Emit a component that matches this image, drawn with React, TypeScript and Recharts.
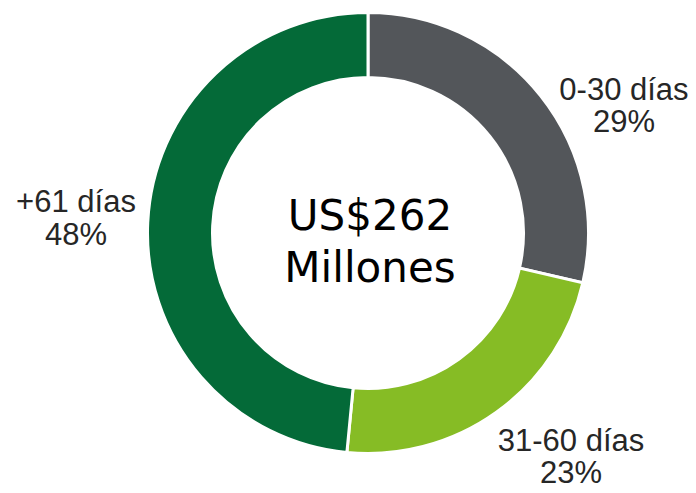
import { Cell, Pie, PieChart } from "recharts";

// amounts in US$ millions (total 262)
const categories = ["0-30 días", "31-60 días", "+61 días"];
const amounts = [75, 60, 127];
const sliceColors = ["#53565A", "#86BC25", "#046A38"];
const centerLines = ["US$262", "Millones"];

const data = categories.map((name, i) => ({ name, value: amounts[i] }));

// where each outside label sits, relative to the pie centre (first baseline)
const LABEL_OFFSETS: Record<string, { dx: number; dy: number; gap: number }> = {
  "0-30 días": { dx: 256, dy: -133, gap: 32 },
  "31-60 días": { dx: 203, dy: 218, gap: 32 },
  "+61 días": { dx: -292, dy: -21, gap: 33 },
};

const CX = 368;
const CY = 233;

function OutsideLabel(props: any) {
  const { cx, cy, name, percent } = props;
  const off = LABEL_OFFSETS[name];
  if (!off) return null;
  const x = cx + off.dx;
  const y = cy + off.dy;
  return (
    <text
      x={x}
      y={y}
      textAnchor="middle"
      fill="#262626"
      fontSize={31}
      fontFamily="'Liberation Sans', Arial, sans-serif"
    >
      <tspan x={x} y={y}>
        {name}
      </tspan>
      <tspan x={x} y={y + off.gap}>
        {`${Math.round(percent * 100)}%`}
      </tspan>
    </text>
  );
}

export default function App() {
  return (
    <div style={{ position: "absolute", left: 0, top: 0, width: 696, height: 493, background: "#fff" }}>
      <PieChart width={696} height={493} margin={{ top: 0, right: 0, bottom: 0, left: 0 }}>
        <Pie
          data={data}
          dataKey="value"
          nameKey="name"
          cx={CX}
          cy={CY}
          innerRadius={155.5}
          outerRadius={220.5}
          startAngle={90}
          endAngle={-270}
          stroke="#ffffff"
          strokeWidth={3}
          isAnimationActive={false}
          labelLine={false}
          label={OutsideLabel}
        >
          {data.map((d, i) => (
            <Cell key={d.name} fill={sliceColors[i]} />
          ))}
        </Pie>
        <text
          x={CX + 2}
          y={230}
          textAnchor="middle"
          fill="#000"
          fontSize={42}
          fontFamily="'DejaVu Sans', Verdana, sans-serif"
        >
          <tspan x={CX + 2} y={230}>
            {centerLines[0]}
          </tspan>
          <tspan x={CX + 2} y={282}>
            {centerLines[1]}
          </tspan>
        </text>
      </PieChart>
    </div>
  );
}
